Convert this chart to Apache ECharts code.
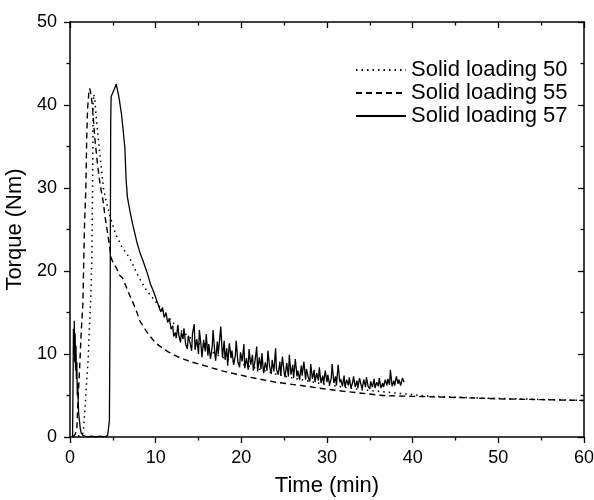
<!DOCTYPE html>
<html>
<head>
<meta charset="utf-8">
<script src="https://cdn.jsdelivr.net/npm/echarts@6/dist/echarts.min.js"></script>
<style>
    html, body {margin: 0; padding: 0; background: #fff;}
    #chart {width: 594px; height: 500px;}
</style>
</head>
<body>
<div id="chart"></div>
<script>
// Solid loading 50 (dotted) [time min, torque Nm]
var load50 = [
    [0.3, 0], [1.4, 0.2], [1.55, 0.6], [1.65, 2], [1.75, 3.4], [1.9, 6], [2.1, 9], [2.3, 14],
    [2.45, 17.5], [2.55, 22], [2.62, 28], [2.66, 34], [2.7, 40], [2.78, 41.3], [2.9, 40.6],
    [3.05, 38.6], [3.3, 36], [3.5, 34], [3.7, 32], [3.9, 30], [4.2, 28.5], [4.7, 26.5],
    [5.3, 24.5], [6, 23], [7, 21.5], [8, 19.3], [8.9, 17.7], [10, 16.3], [11, 15], [12, 13.8],
    [13, 12.8], [14, 12], [15, 11.3], [16, 10.6], [17, 10], [18, 9.5], [20, 8.8], [22, 8.2],
    [24, 7.6], [26, 7.1], [28, 6.7], [30, 6.3], [32, 6], [34, 5.7], [36, 5.5], [38, 5.3],
    [40, 5.1], [42, 4.9], [45, 4.8], [48, 4.7], [52, 4.6], [56, 4.5], [60, 4.4]
];
// Solid loading 55 (dashed)
var load55 = [
    [0.3, 0], [0.6, 0.3], [0.8, 1], [0.93, 4.4], [1.13, 8.4], [1.3, 12.5], [1.5, 16],
    [1.7, 25.7], [1.85, 30], [1.95, 36], [2.05, 39.5], [2.2, 41.5], [2.3, 42], [2.45, 41.3],
    [2.6, 40], [2.9, 36], [3.2, 33], [3.5, 30.5], [3.85, 28.5], [4.1, 26.5], [4.4, 24.5],
    [4.8, 21.6], [5.1, 20.8], [5.4, 20.4], [5.8, 19.5], [6.1, 19.2], [6.4, 18.5], [7, 17],
    [7.6, 15.6], [8.2, 13.9], [9, 12.6], [10, 11.3], [11.4, 10.3], [12.5, 9.7], [14, 9.1],
    [16, 8.5], [18, 7.9], [21, 7.2], [24, 6.6], [27, 6.2], [29, 5.9], [32, 5.5], [36.5, 5.0],
    [40, 4.9], [44, 4.8], [50, 4.6], [55, 4.5], [60, 4.4]
];
// Solid loading 57 (solid, noisy)
var load57 = [
    [0.3, 0], [0.35, 6], [0.4, 13], [0.45, 10], [0.5, 14], [0.55, 9], [0.6, 12.5], [0.65, 8],
    [0.7, 11], [0.75, 7], [0.8, 9], [0.85, 5], [0.9, 6.5], [1.0, 3], [1.1, 2], [1.2, 1],
    [1.3, 0.5], [1.5, 0.2], [2, 0], [2.5, 0.1], [3, 0], [3.5, 0.1], [4, 0], [4.4, 0.2],
    [4.6, 2], [4.7, 20], [4.75, 38], [4.8, 41], [5.0, 41.2], [5.2, 42], [5.4, 42.5],
    [5.7, 41], [6, 39], [6.2, 37], [6.4, 34.9], [6.55, 31], [6.7, 28.9], [7.0, 27.2],
    [7.3, 25.7], [7.8, 23.5], [8.2, 22.1], [8.5, 21.3], [9, 19.8], [9.2, 19.6], [9.4, 18.4],
    [9.6, 18.6], [9.8, 17.4], [10, 17.5], [10.2, 16.2], [10.4, 16.4], [10.6, 15.1],
    [10.8, 15.6], [11, 14.4], [11.2, 15.0], [11.4, 13.8], [11.6, 14.3], [11.8, 13.0],
    [12.0, 13.4], [12.1, 12.1], [12.3, 12.6], [12.4, 11.9], [12.6, 13.5], [12.7, 12.3],
    [12.9, 11.4], [13.0, 12.6], [13.2, 11.8], [13.3, 13.1], [13.5, 11.2], [13.7, 10.6],
    [13.8, 12.2], [14.0, 11.4], [14.2, 10.4], [14.3, 12.5], [14.5, 13.6], [14.6, 10.5],
    [14.8, 11.8], [15.0, 10.0], [15.1, 12.9], [15.3, 11.0], [15.4, 9.6], [15.6, 11.7],
    [15.8, 10.3], [15.9, 12.4], [16.1, 9.8], [16.2, 11.2], [16.4, 9.4], [16.6, 10.9],
    [16.7, 12.9], [16.9, 10.2], [17.0, 9.2], [17.2, 11.5], [17.3, 10.0], [17.5, 12.1],
    [17.6, 13.3], [17.8, 9.6], [18.0, 11.6], [18.1, 9.3], [18.3, 10.7], [18.4, 8.6],
    [18.6, 11.3], [18.8, 9.5], [18.9, 10.4], [19.1, 8.7], [19.3, 9.8], [19.4, 11.6],
    [19.6, 9.0], [19.8, 8.4], [19.9, 10.2], [20.1, 9.1], [20.3, 11.2], [20.4, 8.3],
    [20.6, 9.5], [20.8, 8.1], [20.9, 10.6], [21.1, 8.7], [21.3, 9.9], [21.4, 8.0],
    [21.6, 9.2], [21.8, 10.9], [21.9, 7.9], [22.1, 9.6], [22.3, 8.2], [22.4, 10.1],
    [22.6, 7.7], [22.8, 9.0], [23.0, 8.0], [23.1, 10.4], [23.3, 8.5], [23.5, 7.6],
    [23.6, 9.3], [23.8, 7.9], [24.0, 10.7], [24.1, 8.2], [24.3, 7.5], [24.5, 9.1],
    [24.6, 7.4], [24.8, 9.7], [25.0, 7.8], [25.1, 7.2], [25.3, 8.9], [25.5, 7.3],
    [25.6, 9.9], [25.8, 7.5], [26.0, 8.7], [26.1, 7.1], [26.3, 9.4], [26.5, 7.3],
    [26.6, 8.0], [26.8, 6.9], [27.0, 8.6], [27.1, 7.4], [27.3, 9.1], [27.5, 6.9],
    [27.6, 8.2], [27.8, 7.2], [28.0, 6.7], [28.1, 8.8], [28.3, 7.0], [28.5, 8.1],
    [28.6, 6.6], [28.8, 7.7], [29.0, 6.8], [29.1, 8.4], [29.3, 6.5], [29.5, 7.4],
    [29.6, 6.4], [29.8, 8.0], [30.0, 6.6], [30.1, 7.5], [30.3, 6.3], [30.5, 7.1],
    [30.6, 8.8], [30.8, 6.5], [31.0, 7.3], [31.1, 6.2], [31.3, 8.7], [31.5, 6.6],
    [31.6, 7.0], [31.8, 6.1], [32.0, 7.4], [32.1, 6.0], [32.3, 6.9], [32.5, 6.2],
    [32.6, 7.2], [32.8, 5.9], [33.0, 6.6], [33.1, 7.3], [33.3, 6.0], [33.5, 6.8],
    [33.6, 5.9], [33.8, 7.1], [34.0, 6.2], [34.1, 5.8], [34.3, 6.9], [34.5, 6.0],
    [34.6, 7.2], [34.8, 6.1], [35.0, 5.8], [35.1, 6.7], [35.3, 6.0], [35.5, 7.0],
    [35.6, 5.9], [35.8, 6.6], [36.0, 6.1], [36.1, 7.1], [36.3, 5.9], [36.5, 6.5],
    [36.6, 6.0], [36.8, 6.9], [37.0, 6.2], [37.1, 7.0], [37.3, 6.3], [37.4, 8.1],
    [37.6, 6.1], [37.8, 6.8], [37.9, 6.2], [38.1, 7.3], [38.3, 6.4], [38.4, 6.9],
    [38.6, 6.2], [38.8, 7.1], [39.0, 6.6]
];
var seriesNames = ['Solid loading 50', 'Solid loading 55', 'Solid loading 57'];

var font = 'Liberation Sans, Arial, sans-serif';
var chart = echarts.init(document.getElementById('chart'));

function axisCommon(show) {
    return {
        min: 0,
        interval: 10,
        axisLine: {show: true, onZero: false, lineStyle: {color: '#000', width: 1.5}},
        axisTick: {show: true, inside: !show, length: 6, lineStyle: {color: '#000', width: 1.3}},
        minorTick: {show: true, splitNumber: 2, length: 3.5, lineStyle: {color: '#000', width: 1.3}},
        axisLabel: {show: show, color: '#000', fontSize: 18, fontFamily: font},
        splitLine: {show: false}
    };
}

var xBottom = axisCommon(true);
xBottom.max = 60;
xBottom.type = 'value';
xBottom.position = 'bottom';
xBottom.name = 'Time (min)';
xBottom.nameLocation = 'middle';
xBottom.nameGap = 38;
xBottom.nameTextStyle = {color: '#000', fontSize: 22, fontFamily: font};
xBottom.axisLabel.margin = 12;

var xTop = axisCommon(false);
xTop.max = 60;
xTop.type = 'value';
xTop.position = 'top';

var yLeft = axisCommon(true);
yLeft.max = 50;
yLeft.type = 'value';
yLeft.position = 'left';
yLeft.name = 'Torque (Nm)';
yLeft.nameLocation = 'middle';
yLeft.nameGap = 31;
yLeft.nameTextStyle = {color: '#000', fontSize: 22, fontFamily: font};
yLeft.axisLabel.margin = 13;

var yRight = axisCommon(false);
yRight.max = 50;
yRight.type = 'value';
yRight.position = 'right';

option = {
    animation: false,
    backgroundColor: '#fff',
    grid: {left: 70, right: 10, top: 22, bottom: 63, outerBoundsMode: 'none'},
    legend: {
        orient: 'vertical',
        left: 355,
        top: 59,
        padding: 0,
        itemWidth: 50,
        itemHeight: 14,
        itemGap: 1,
        data: seriesNames,
        itemStyle: {opacity: 0},
        textStyle: {color: '#000', fontSize: 22, fontFamily: font}
    },
    xAxis: [xBottom, xTop],
    yAxis: [yLeft, yRight],
    series: [
        {
            name: seriesNames[0],
            type: 'line',
            data: load50,
            symbol: 'none',
            lineStyle: {color: '#000', width: 1.5, type: [1.5, 4]},
            itemStyle: {color: '#000'}
        },
        {
            name: seriesNames[1],
            type: 'line',
            data: load55,
            symbol: 'none',
            lineStyle: {color: '#000', width: 1.4, type: [6, 4]},
            itemStyle: {color: '#000'}
        },
        {
            name: seriesNames[2],
            type: 'line',
            data: load57,
            symbol: 'none',
            lineStyle: {color: '#000', width: 1.3},
            itemStyle: {color: '#000'}
        }
    ]
};
chart.setOption(option);
</script>
</body>
</html>
